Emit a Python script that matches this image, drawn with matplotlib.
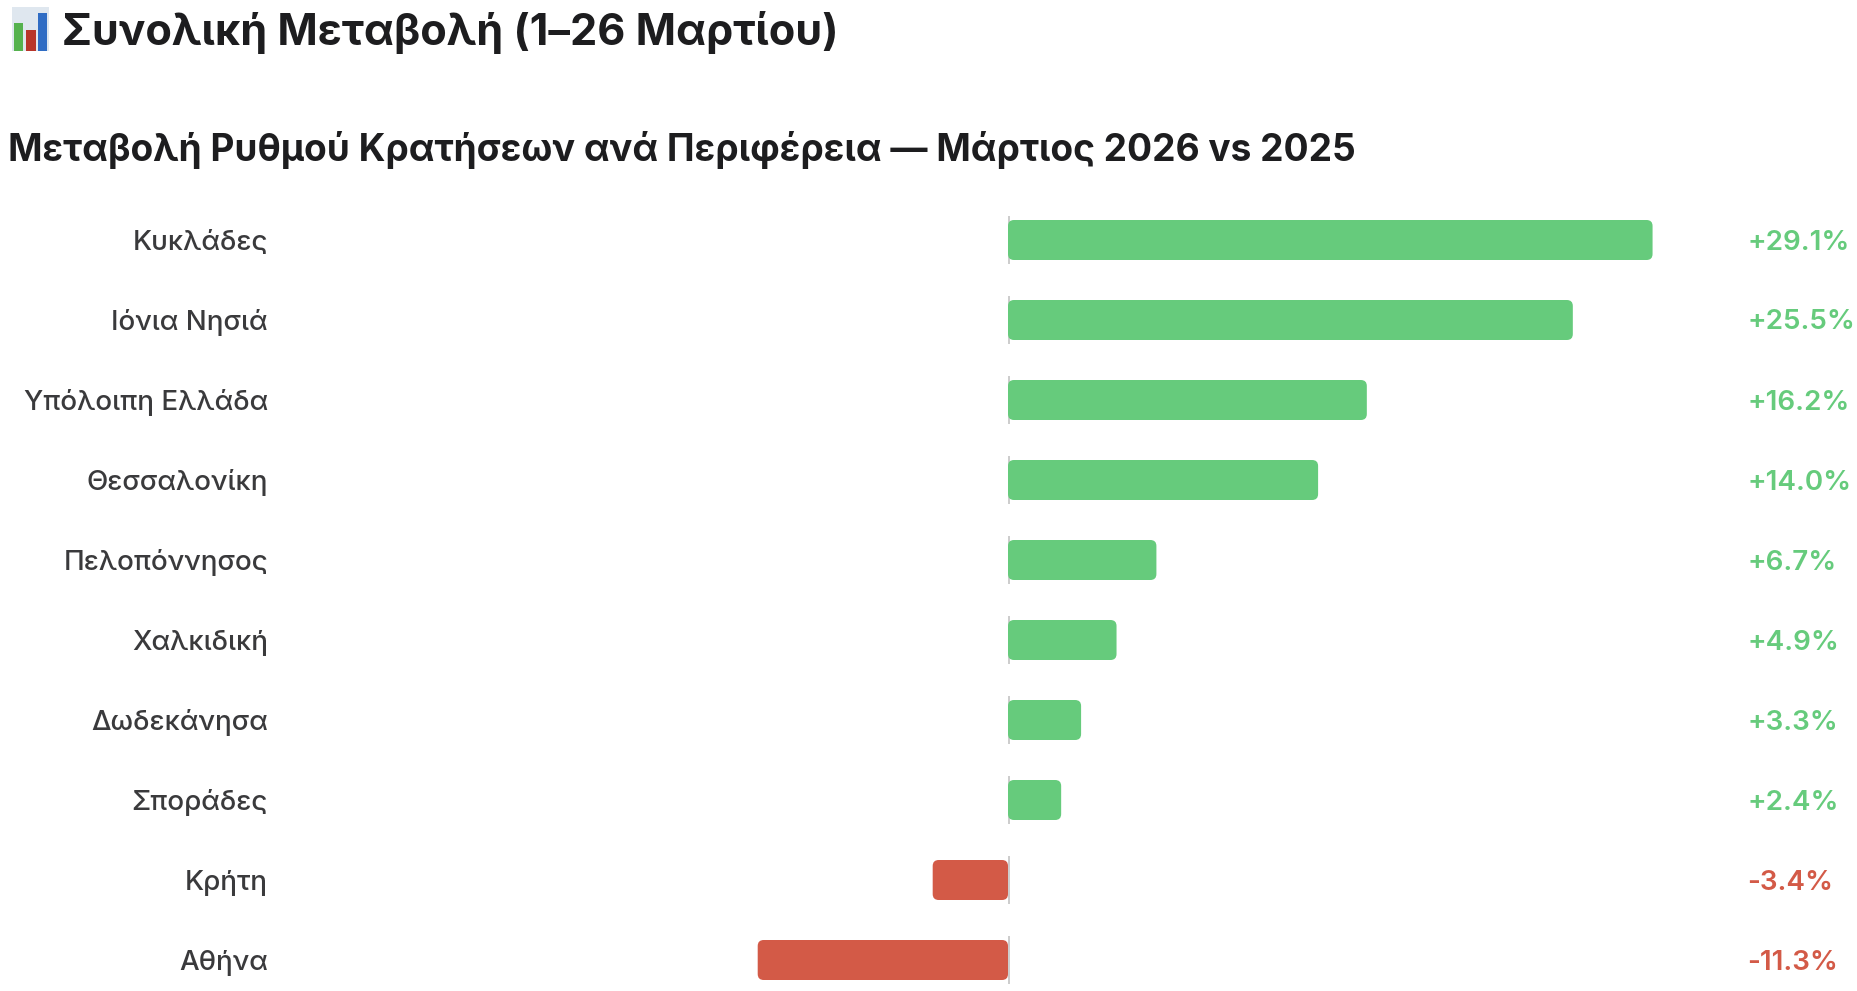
import matplotlib
matplotlib.use('Agg')
import matplotlib.pyplot as plt
from matplotlib.patches import FancyBboxPatch, Rectangle

plt.rcParams['font.family'] = ['Inter', 'DejaVu Sans']

regions = ['Κυκλάδες', 'Ιόνια Νησιά', 'Υπόλοιπη Ελλάδα', 'Θεσσαλονίκη', 'Πελοπόννησος',
           'Χαλκιδική', 'Δωδεκάνησα', 'Σποράδες', 'Κρήτη', 'Αθήνα']
values = [29.1, 25.5, 16.2, 14.0, 6.7, 4.9, 3.3, 2.4, -3.4, -11.3]
title = 'Συνολική Μεταβολή (1–26 Μαρτίου)'
subtitle = 'Μεταβολή Ρυθμού Κρατήσεων ανά Περιφέρεια — Μάρτιος 2026 vs 2025'

green = '#66cb7c'
red = '#d35a47'
W, H = 1857, 991

fig = plt.figure(figsize=(W / 100, H / 100), dpi=100, facecolor='white')
ax = fig.add_axes([0, 0, 1, 1])

# axis scale: 22.15 px per percent, 80 px per row
zero_px = 1008
px_x = 22.15
px_y = 80
ax.set_xlim(-zero_px / px_x, (W - zero_px) / px_x)
ax.set_ylim((H - 240) / px_y, -240 / px_y)
ax.axis('off')

aspect = px_x / px_y
rad = 6 / px_x
h = 40 / px_y

for i, (name, v) in enumerate(zip(regions, values)):
    ax.vlines(1 / px_x, i - 0.3, i + 0.3, color='#cccccc', lw=1.4, zorder=1)
    col = green if v > 0 else red
    ax.add_patch(FancyBboxPatch((min(v, 0), i - h / 2), abs(v), h,
                                boxstyle=f'round,pad=0,rounding_size={rad}',
                                mutation_aspect=aspect, fc=col, ec='none', zorder=2))
    y_txt = 1 - (242.5 + i * px_y) / H
    ax.text(268 / W, y_txt, name, transform=fig.transFigure, ha='right', va='center',
            fontsize=20, fontweight='medium', color='#3a3a3c')
    ax.text(1747 / W, y_txt, f'{v:+.1f}%', transform=fig.transFigure, ha='left', va='center',
            fontsize=20, fontweight='semibold', color=col)

fig.text(62 / W, 1 - 33 / H, title, ha='left', va='center', fontsize=31.1, fontweight='bold', color='#1d1d1f')
fig.text(8 / W, 1 - 150 / H, subtitle, ha='left', va='center', fontsize=26.7, fontweight='bold', color='#1d1d1f')

# chart emoji before the title
for x, y, w, hh, c in [(12, 7, 37, 44, '#dfe7ef'), (14, 23, 9, 28, '#55b24e'),
                       (26, 30, 10, 21, '#b8352a'), (38, 13, 9, 38, '#2f6cc4')]:
    fig.add_artist(Rectangle((x / W, 1 - (y + hh) / H), w / W, hh / H,
                             transform=fig.transFigure, fc=c, ec='none'))

fig.savefig('out.png', dpi=100)
